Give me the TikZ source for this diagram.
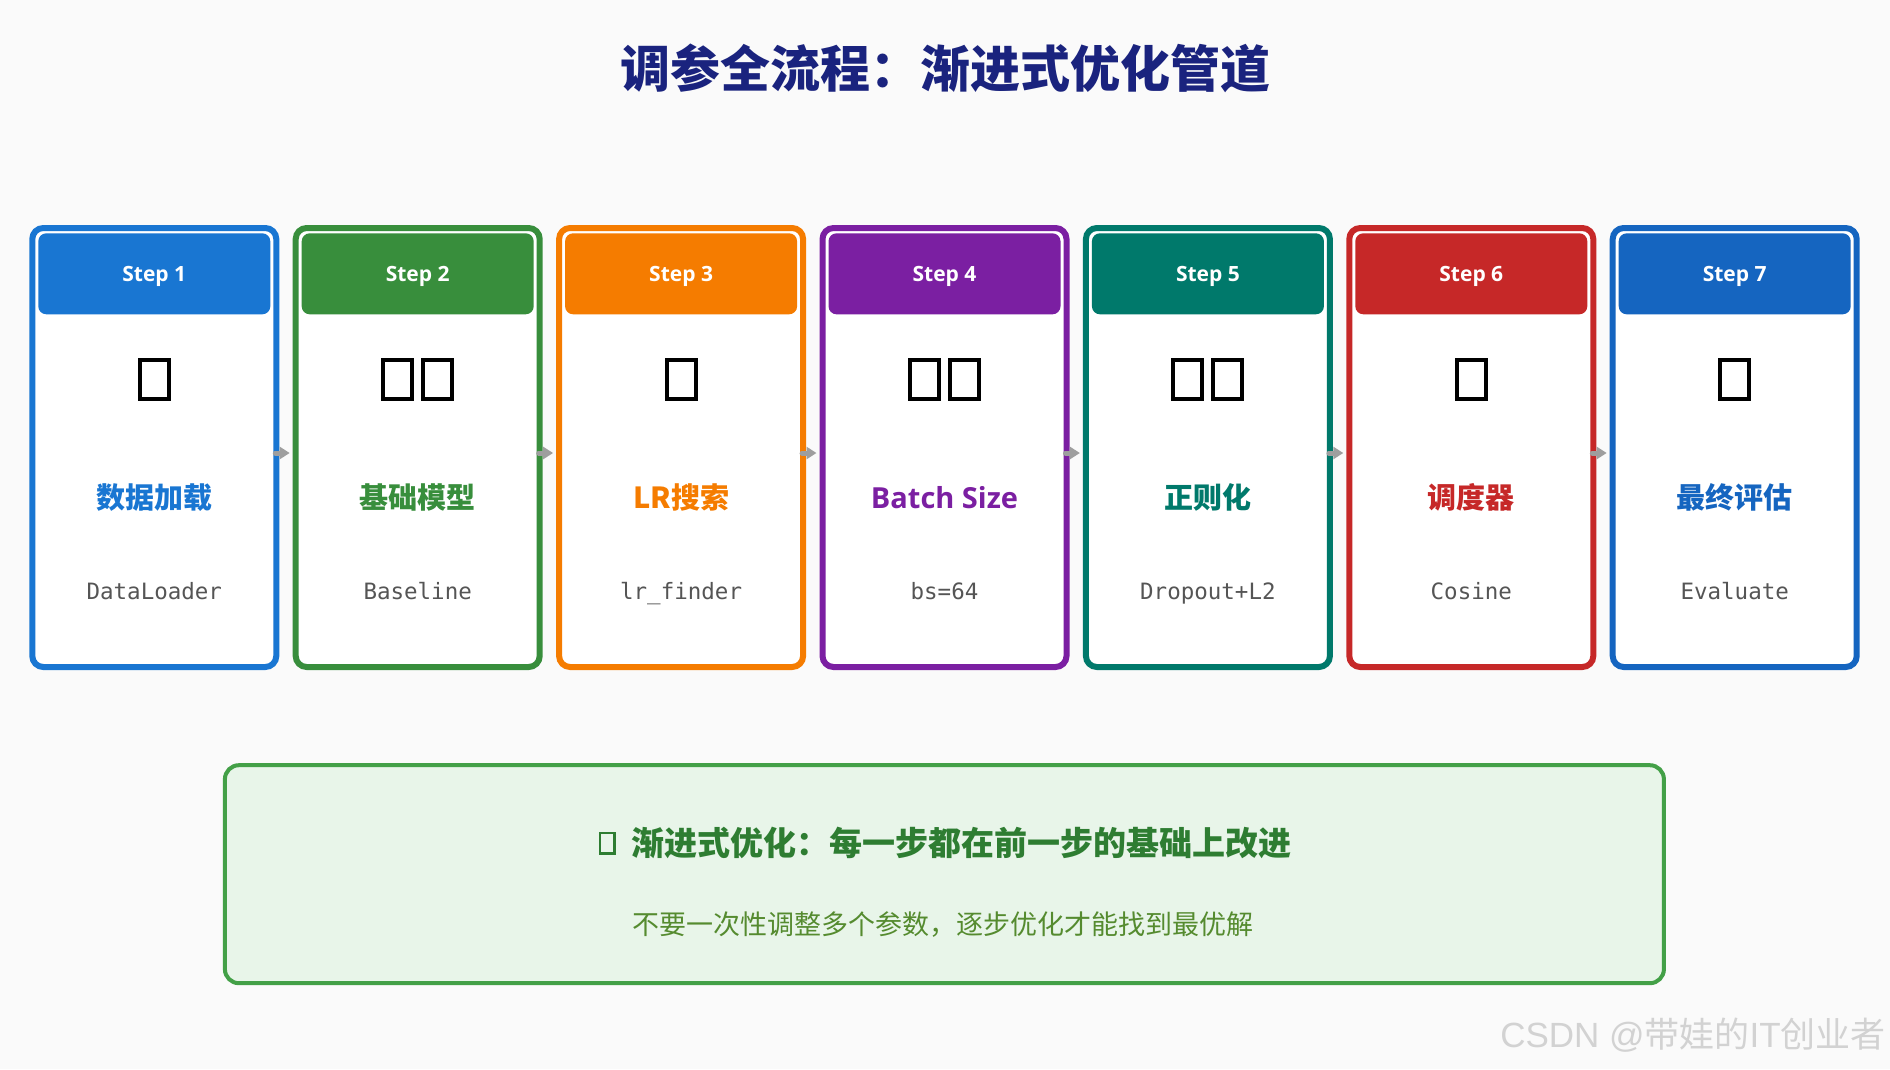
\documentclass[tikz,border=0pt]{standalone}
\usepackage{fontspec}
\setmainfont{Open Sans}
\setmonofont{DejaVu Sans Mono}
\newfontfamily\cjk{Noto Sans CJK SC}
\newfontfamily\wmlatin{Liberation Sans}
\usetikzlibrary{positioning,arrows.meta}
\definecolor{bgcol}{HTML}{FAFAFA}
\definecolor{titlecol}{HTML}{1A237E}
\definecolor{stepa}{HTML}{1976D2}
\definecolor{stepb}{HTML}{388E3C}
\definecolor{stepc}{HTML}{F57C00}
\definecolor{stepd}{HTML}{7B1FA2}
\definecolor{stepe}{HTML}{00796B}
\definecolor{stepf}{HTML}{C62828}
\definecolor{stepg}{HTML}{1565C0}
\definecolor{arrowcol}{HTML}{9E9E9E}
\definecolor{codecol}{HTML}{555555}
\definecolor{tipfill}{HTML}{E8F5E9}
\definecolor{tipdraw}{HTML}{43A047}
\definecolor{tiptext}{HTML}{2E7D32}
\definecolor{tipsubcol}{HTML}{558B2F}
\definecolor{markcol}{HTML}{D2D2D2}
\begin{document}
\begin{tikzpicture}
	[x=1pt, y=-1pt, node distance=263.4pt,
	card/.style		={rectangle, rounded corners=11pt, draw=#1, fill=white, line width=6pt, minimum width=244pt, minimum height=439pt},
	stephead/.style	={rectangle, rounded corners=8pt, fill=#1, text=white, inner sep=0pt, minimum width=232pt, minimum height=81pt, text height=15pt, text depth=0pt, font=\bfseries\fontsize{21}{25}\selectfont},
	tofu/.style		={rectangle, draw=black, line width=4pt, inner sep=0pt, minimum width=29pt, minimum height=39pt},
	stepname/.style	={anchor=base, inner sep=0pt, text=#1, font=\cjk\bfseries\fontsize{29}{35}\selectfont},
	latinname/.style={anchor=base, inner sep=0pt, text=#1, font=\bfseries\fontsize{29}{35}\selectfont},
	codetext/.style	={anchor=base, inner sep=0pt, text=codecol, font=\ttfamily\fontsize{22.5}{27}\selectfont},
	flow/.style		={draw=arrowcol, line width=5pt, line cap=round, -{Triangle[length=10pt, width=12pt]}},
	maintitle/.style={inner sep=0pt, text=titlecol, font=\cjk\bfseries\fontsize{50}{60}\selectfont},
	tipbox/.style	={rectangle, rounded corners=14pt, draw=tipdraw, fill=tipfill, line width=4pt, minimum width=1439pt, minimum height=218pt},
	tiptitle/.style	={inner sep=0pt, text=tiptext, font=\cjk\bfseries\fontsize{33}{40}\selectfont},
	tipsub/.style	={inner sep=0pt, text=tipsubcol, font=\cjk\fontsize{27}{32}\selectfont},
	watermark/.style={anchor=base east, inner sep=0pt, text=markcol, font=\cjk\fontsize{35}{42}\selectfont},]
	\useasboundingbox (0,0) rectangle (1890,1069);
	\fill[bgcol] (0,0) rectangle (1890,1069);
	\node[maintitle] (title) at (945,68) {调参全流程：渐进式优化管道};
	% rows inside the cards
	\coordinate (headrow) at (0,273.8);
	\coordinate (iconrow) at (0,379.5);
	\coordinate (namerow) at (0,508);
	\coordinate (coderow) at (0,599.5);
	% cards
	\node[card=stepa]					(s1) at (154.3,447.5) {};
	\node[card=stepb, right of=s1]	(s2) {};
	\node[card=stepc, right of=s2]	(s3) {};
	\node[card=stepd, right of=s3]	(s4) {};
	\node[card=stepe, right of=s4]	(s5) {};
	\node[card=stepf, right of=s5]	(s6) {};
	\node[card=stepg, right of=s6]	(s7) {};
	% headers
	\node[stephead=stepa] (h1) at (s1 |- headrow) {Step 1};
	\node[stephead=stepb] (h2) at (s2 |- headrow) {Step 2};
	\node[stephead=stepc] (h3) at (s3 |- headrow) {Step 3};
	\node[stephead=stepd] (h4) at (s4 |- headrow) {Step 4};
	\node[stephead=stepe] (h5) at (s5 |- headrow) {Step 5};
	\node[stephead=stepf] (h6) at (s6 |- headrow) {Step 6};
	\node[stephead=stepg] (h7) at (s7 |- headrow) {Step 7};
	% icons
	\node[tofu]				(i1)  at (s1 |- iconrow) {};
	\node[tofu, xshift=-20pt]	(i2a) at (s2 |- iconrow) {};
	\node[tofu, xshift=20pt]	(i2b) at (s2 |- iconrow) {};
	\node[tofu]				(i3)  at (s3 |- iconrow) {};
	\node[tofu, xshift=-20pt]	(i4a) at (s4 |- iconrow) {};
	\node[tofu, xshift=20pt]	(i4b) at (s4 |- iconrow) {};
	\node[tofu, xshift=-20pt]	(i5a) at (s5 |- iconrow) {};
	\node[tofu, xshift=20pt]	(i5b) at (s5 |- iconrow) {};
	\node[tofu]				(i6)  at (s6 |- iconrow) {};
	\node[tofu]				(i7)  at (s7 |- iconrow) {};
	% names
	\node[stepname=stepa]	(n1) at (s1 |- namerow) {数据加载};
	\node[stepname=stepb]	(n2) at (s2 |- namerow) {基础模型};
	\node[stepname=stepc]	(n3) at (s3 |- namerow) {LR搜索};
	\node[latinname=stepd]	(n4) at (s4 |- namerow) {Batch Size};
	\node[stepname=stepe]	(n5) at (s5 |- namerow) {正则化};
	\node[stepname=stepf]	(n6) at (s6 |- namerow) {调度器};
	\node[stepname=stepg]	(n7) at (s7 |- namerow) {最终评估};
	% code hints
	\node[codetext] (k1) at (s1 |- coderow) {DataLoader};
	\node[codetext] (k2) at (s2 |- coderow) {Baseline};
	\node[codetext] (k3) at (s3 |- coderow) {lr\_finder};
	\node[codetext] (k4) at (s4 |- coderow) {bs=64};
	\node[codetext] (k5) at (s5 |- coderow) {Dropout+L2};
	\node[codetext] (k6) at (s6 |- coderow) {Cosine};
	\node[codetext] (k7) at (s7 |- coderow) {Evaluate};
	% arrows
	\draw[flow] ([shift={(-4pt,-5.5pt)}]s1.east) -- ([shift={(-3pt,-5.5pt)}]s2.west);
	\draw[flow] ([shift={(-4pt,-5.5pt)}]s2.east) -- ([shift={(-3pt,-5.5pt)}]s3.west);
	\draw[flow] ([shift={(-4pt,-5.5pt)}]s3.east) -- ([shift={(-3pt,-5.5pt)}]s4.west);
	\draw[flow] ([shift={(-4pt,-5.5pt)}]s4.east) -- ([shift={(-3pt,-5.5pt)}]s5.west);
	\draw[flow] ([shift={(-4pt,-5.5pt)}]s5.east) -- ([shift={(-3pt,-5.5pt)}]s6.west);
	\draw[flow] ([shift={(-4pt,-5.5pt)}]s6.east) -- ([shift={(-3pt,-5.5pt)}]s7.west);
	% tip box
	\node[tipbox]	(tip)		at (944.4,874.2) {};
	\node[tiptitle]	(tiptxt)	at (961,843) {渐进式优化：每一步都在前一步的基础上改进};
	\node[tofu, draw=tiptext, line width=2.5pt, minimum width=14.5pt, minimum height=20.5pt, left=15pt of tiptxt] (tipicon) {};
	\node[tipsub]	(tipline)	at (943,925) {不要一次性调整多个参数，逐步优化才能找到最优解};
	\node[watermark] (wm) at (1886,1047) {{\wmlatin CSDN @}带娃的{\wmlatin IT}创业者};
\end{tikzpicture}
\end{document}
